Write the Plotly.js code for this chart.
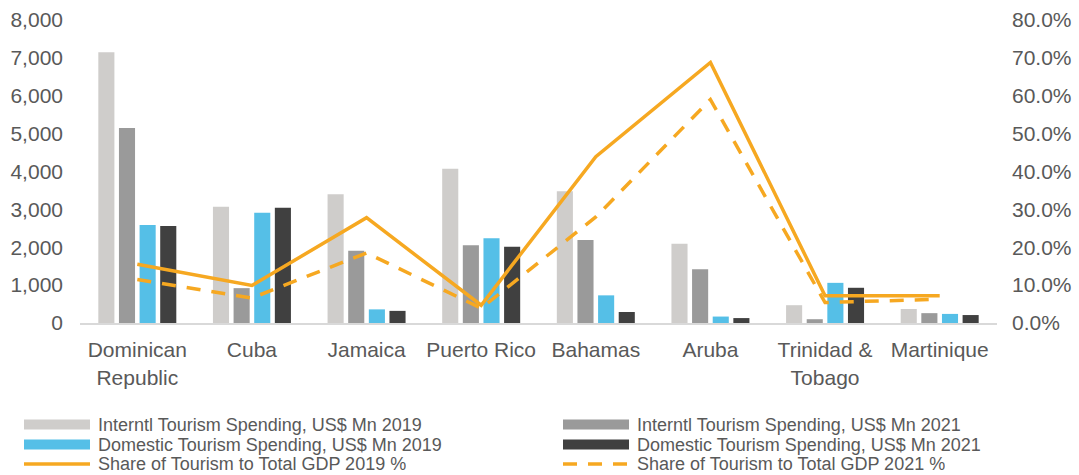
<!DOCTYPE html>
<html>
<head>
<meta charset="utf-8">
<script src="https://cdn.plot.ly/plotly-3.0.1.min.js"></script>
<style>
  html, body { margin: 0; padding: 0; background: #ffffff; }
  #chart { width: 1079px; height: 475px; }
</style>
</head>
<body>
<div id="chart"></div>
<script>
// Caribbean tourism: spending (US$ Mn, left axis) and tourism share of GDP (right axis)
const countries = ["Dominican<br>Republic", "Cuba", "Jamaica", "Puerto Rico", "Bahamas", "Aruba", "Trinidad &<br>Tobago", "Martinique"];

const intlSpend2019 = [7150, 3070, 3400, 4070, 3480, 2090, 470, 370];
const intlSpend2021 = [5150, 920, 1910, 2050, 2190, 1420, 100, 260];
const domSpend2019  = [2590, 2910, 360, 2240, 730, 170, 1060, 240];
const domSpend2021  = [2560, 3040, 320, 2010, 290, 130, 930, 210];

const gdpShare2019 = [0.155, 0.099, 0.278, 0.047, 0.439, 0.688, 0.072, 0.072];
const gdpShare2021 = [0.115, 0.066, 0.185, 0.039, 0.280, 0.590, 0.054, 0.063];

const seriesNames = [
  "Interntl Tourism Spending, US$ Mn 2019",
  "Interntl Tourism Spending, US$ Mn 2021",
  "Domestic Tourism Spending, US$ Mn 2019",
  "Domestic Tourism Spending, US$ Mn 2021",
  "Share of Tourism to Total GDP 2019 %",
  "Share of Tourism to Total GDP 2021 %"
];

const textColor = "#595959";
const orange = "#F6A821";
const barColors = ["#CFCDCB", "#9A9A9A", "#55BFE7", "#404040"];
const gdpDash = "14px,11px";
const lineW = 3.5;

// Figure geometry (pixels)
const W = 1079, H = 475;
const M = { l: 80, r: 82, t: 20, b: 152 };
const plotW = W - M.l - M.r, plotH = H - M.t - M.b;
const px = x => (x - M.l) / plotW;           // pixel x -> paper x
const py = y => (H - M.b - y) / plotH;       // pixel y -> paper y

function barTrace(i, values) {
  return {
    type: "bar", name: seriesNames[i], x: countries, y: values,
    marker: { color: barColors[i], line: { width: 0 } },
    hoverinfo: "y+name"
  };
}

const traces = [
  barTrace(0, intlSpend2019),
  barTrace(1, intlSpend2021),
  barTrace(2, domSpend2019),
  barTrace(3, domSpend2021),
  {
    type: "scatter", mode: "lines", name: seriesNames[4],
    x: countries, y: gdpShare2019, yaxis: "y2",
    line: { color: orange, width: lineW }
  },
  {
    type: "scatter", mode: "lines", name: seriesNames[5],
    x: countries, y: gdpShare2021, yaxis: "y2",
    line: { color: orange, width: lineW, dash: gdpDash }
  }
];

// Two-column legend below the plot: swatch + label per series
const legendCols = [{ sx0: 24, sx1: 90, tx: 97 }, { sx0: 563, sx1: 629, tx: 636 }];
const legendRows = [424.5, 444.5, 464];
const shapes = [], annotations = [];
seriesNames.forEach((name, i) => {
  const col = legendCols[i % 2], yc = legendRows[Math.floor(i / 2)];
  if (i < 4) {
    shapes.push({
      type: "rect", xref: "paper", yref: "paper",
      x0: px(col.sx0), x1: px(col.sx1), y0: py(yc + 5), y1: py(yc - 5),
      fillcolor: barColors[i], line: { width: 0 }
    });
  } else {
    shapes.push({
      type: "line", xref: "paper", yref: "paper",
      x0: px(col.sx0), x1: px(col.sx1), y0: py(yc), y1: py(yc),
      line: { color: orange, width: lineW, dash: i === 5 ? gdpDash : "solid" }
    });
  }
  annotations.push({
    xref: "paper", yref: "paper", x: px(col.tx), y: py(yc),
    xanchor: "left", yanchor: "middle", showarrow: false,
    height: 20, valign: "middle", borderpad: 0,
    text: name, font: { size: 18, color: textColor }
  });
});

const layout = {
  width: W, height: H,
  margin: M,
  paper_bgcolor: "#ffffff", plot_bgcolor: "#ffffff",
  font: { family: "Liberation Sans, Arial, sans-serif", size: 21, color: textColor },
  barmode: "group", bargap: 0.28, bargroupgap: 0.22,
  showlegend: false,
  shapes: shapes,
  annotations: annotations,
  xaxis: {
    type: "category", showgrid: false, zeroline: false,
    showline: true, linecolor: "#D9D9D9", linewidth: 2,
    ticks: "", ticklabelstandoff: 7,
    tickfont: { size: 21, color: textColor }
  },
  yaxis: {
    range: [0, 8000], dtick: 1000, tickformat: ",",
    showgrid: false, zeroline: false, showline: false, ticks: "",
    ticklabelstandoff: 16,
    tickfont: { size: 21, color: textColor }
  },
  yaxis2: {
    overlaying: "y", side: "right",
    range: [0, 0.8], dtick: 0.1, tickformat: ".1%",
    showgrid: false, zeroline: false, showline: false, ticks: "",
    ticklabelstandoff: 14,
    tickfont: { size: 21, color: textColor }
  }
};

Plotly.newPlot("chart", traces, layout, { displayModeBar: false, staticPlot: true });
</script>
</body>
</html>
